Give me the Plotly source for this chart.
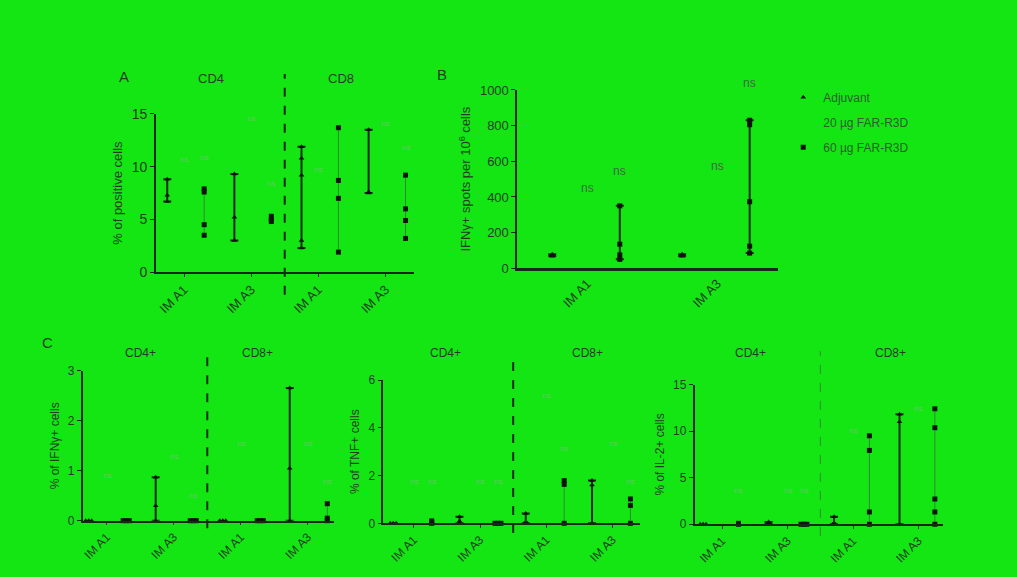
import plotly.graph_objects as go

# ---------------- data ----------------
# Panel A : % of positive cells (CD4 | CD8)
A_categories = ["IM A1", "IM A3", "IM A1", "IM A3"]
A_adjuvant = [[8.8, 7.3, 6.7], [9.3, 5.2, 3.0], [11.9, 10.8, 9.2, 3.0, 2.3], [13.5, 7.6, 7.5]]
A_far60 = [[7.9, 7.6, 4.5, 3.5], [5.3, 5.0, 4.8], [13.7, 8.7, 7.0, 1.9], [9.2, 6.0, 4.9, 3.2]]
A_ns_far20 = [10.1, 14.0, 9.1, 13.45]
A_ns_far60 = [10.3, 7.8, 15.4, 11.2]
A_yticks = [0, 5, 10, 15]

# Panel B : IFNg+ spots per 10^6 cells
B_categories = ["IM A1", "IM A3"]
B_adjuvant = [[78, 72, 68], [78, 72, 68]]
B_far60 = [[350, 135, 75, 50], [830, 805, 373, 124, 85]]
B_ns_far20 = [400, 523]
B_ns_far60 = [496, 987]
B_yticks = [0, 200, 400, 600, 800, 1000]

# Panel C1 : % of IFNg+ cells
C1_categories = ["IM A1", "IM A3", "IM A1", "IM A3"]
C1_adjuvant = [[0, 0, 0], [0.87, 0.3, 0], [0, 0, 0], [2.66, 1.05, 0]]
C1_far60 = [[0, 0, 0], [0, 0, 0], [0, 0, 0], [0.34, 0.05, 0]]
C1_ns_far20 = [0.77, 1.15, 1.41, 1.41]
C1_ns_far60 = [None, 0.38, None, 0.66]
C1_yticks = [0, 1, 2, 3]

# Panel C2 : % of TNF+ cells
C2_categories = ["IM A1", "IM A3", "IM A1", "IM A3"]
C2_adjuvant = [[0, 0, 0], [0.27, 0.1, 0], [0.41, 0, 0], [1.79, 1.6, 0]]
C2_far60 = [[0.1, 0.05, 0], [0, 0, 0], [1.79, 1.63, 0], [1.02, 0.75, 0]]
C2_ns_far20 = [1.49, 1.49, 5.09, 3.05]
C2_ns_far60 = [1.49, 1.49, 2.85, 1.49]
C2_yticks = [0, 2, 4, 6]

# Panel C3 : % of IL-2+ cells
C3_categories = ["IM A1", "IM A3", "IM A1", "IM A3"]
C3_adjuvant = [[0, 0, 0], [0.25, 0.15, 0.1], [0.8, 0, 0], [11.8, 11.0, 0]]
C3_far60 = [[0.1, 0.05, 0], [0, 0, 0], [9.5, 7.93, 1.32, 0], [12.4, 10.37, 2.71, 1.32, 0]]
C3_ns_far20 = [None, 2.89, 9.32, 11.76]
C3_ns_far60 = [2.89, 2.89, None, None]
C3_yticks = [0, 5, 10, 15]

# ---------------- style ----------------
BG = "#14E614"
INK = "#162816"
TXT = "#203e20"
FAINT = "#63c963"
FONT = "Arial, Liberation Sans, sans-serif"
W, H = 1017, 577


def px(x):
    return x / W


def py(y):
    return 1 - y / H


fig = go.Figure()

panels = [
    dict(s="", cats=A_categories, adj=A_adjuvant, f60=A_far60, ns20=A_ns_far20, ns60=A_ns_far60,
         yt=A_yticks, yr=[0, 15], xd=(155, 413), yd=(271.7, 109), xr=[-0.42, 3.42],
         title="% of positive cells", off=(-0.25, 0.0, 0.3), dark60=False, tf=14, nsbig=False),
    dict(s="2", cats=B_categories, adj=B_adjuvant, f60=B_far60, ns20=B_ns_far20, ns60=B_ns_far60,
         yt=B_yticks, yr=[0, 1000], xd=(516.7, 778), yd=(267.7, 84.3), xr=[-0.54, 1.47],
         title="IFNγ+ spots per 10<sup>6</sup> cells", off=(-0.27, 0.0, 0.25), dark60=True, tf=13, nsbig=True),
    dict(s="3", cats=C1_categories, adj=C1_adjuvant, f60=C1_far60, ns20=C1_ns_far20, ns60=C1_ns_far60,
         yt=C1_yticks, yr=[0, 3], xd=(81.7, 333.3), yd=(527.3, 373.3), xr=[-0.36, 3.39],
         title="% of IFNγ+ cells", off=(-0.27, 0.0, 0.29), dark60=False, tf=12, nsbig=False),
    dict(s="4", cats=C2_categories, adj=C2_adjuvant, f60=C2_far60, ns20=C2_ns_far20, ns60=C2_ns_far60,
         yt=C2_yticks, yr=[0, 6], xd=(382.7, 640), yd=(530, 382.7), xr=[-0.46, 3.42],
         title="% of TNF+ cells", off=(-0.31, 0.0, 0.27), dark60=False, tf=12, nsbig=False),
    dict(s="5", cats=C3_categories, adj=C3_adjuvant, f60=C3_far60, ns20=C3_ns_far20, ns60=C3_ns_far60,
         yt=C3_yticks, yr=[0, 15], xd=(694.3, 943.3), yd=(531, 387.3), xr=[-0.42, 3.38],
         title="% of IL-2+ cells", off=(-0.29, 0.0, 0.25), dark60=False, tf=12, nsbig=False),
]


def spread(vals, step):
    # small horizontal offsets for coincident points
    out = []
    seen = {}
    counts = {}
    for v in vals:
        counts[round(v, 2)] = counts.get(round(v, 2), 0) + 1
    for v in vals:
        k = round(v, 2)
        n = counts[k]
        i = seen.get(k, 0)
        seen[k] = i + 1
        out.append((i - (n - 1) / 2) * step if n > 1 else 0.0)
    return out


annotations = []
legend_done = {"adj": False, "f60": False}

for p in panels:
    xa, ya = "x" + p["s"], "y" + p["s"]
    o_adj, o_20, o_60 = p["off"]
    step = 0.045 if len(p["cats"]) > 2 else 0.03
    for ci in range(len(p["cats"])):
        for key, pts, off, sym, dark in (("adj", p["adj"][ci], o_adj, "triangle-up", True),
                                         ("f60", p["f60"][ci], o_60, "square", p["dark60"])):
            lo, hi = min(pts), max(pts)
            med = sorted(pts)[len(pts) // 2]
            if hi > lo:
                fig.add_trace(go.Scatter(
                    x=[ci + off], y=[med], xaxis=xa, yaxis=ya, mode="markers",
                    marker=dict(size=1, color="rgba(0,0,0,0)"), showlegend=False, hoverinfo="skip",
                    cliponaxis=False,
                    error_y=dict(type="data", symmetric=False, array=[hi - med], arrayminus=[med - lo],
                                 color=INK if dark else "#2f8a2f", thickness=2 if dark else 1,
                                 width=4 if dark else 2)))
            js = spread(pts, step)
            show = not legend_done[key]
            legend_done[key] = True
            fig.add_trace(go.Scatter(
                x=[ci + off + j for j in js], y=pts, xaxis=xa, yaxis=ya, mode="markers",
                marker=dict(symbol=sym, size=5, color="#0d140d"),
                name="Adjuvant" if key == "adj" else "60 µg FAR-R3D",
                legendgroup=key, showlegend=show, legendrank=1 if key == "adj" else 3,
                cliponaxis=False))
        for val, off in ((p["ns20"][ci], o_20), (p["ns60"][ci], o_60)):
            if val is None:
                continue
            annotations.append(dict(
                x=ci + off, y=val, xref=xa, yref=ya, text="ns", showarrow=False,
                xanchor="center", yanchor="bottom",
                font=dict(family=FONT, size=12 if p["nsbig"] else 8,
                          color="#3b6b3b" if p["nsbig"] else FAINT)))

# 20 ug legend entry (markers not visible in the original)
fig.add_trace(go.Scatter(x=[None], y=[None], mode="markers", name="20 µg FAR-R3D",
                         marker=dict(symbol="circle", size=5, color=BG), legendgroup="f20",
                         legendrank=2, showlegend=True))

layout = dict(
    width=W, height=H, paper_bgcolor=BG, plot_bgcolor=BG,
    margin=dict(l=0, r=0, t=0, b=0),
    font=dict(family=FONT, color=TXT, size=12),
    legend=dict(x=px(783), y=py(77), xanchor="left", yanchor="top", bgcolor="rgba(0,0,0,0)",
                font=dict(size=12, color="#2c5f2c"), tracegroupgap=6, itemwidth=30),
)

for p in panels:
    s = p["s"]
    xk, yk = "xaxis" + s, "yaxis" + s
    n = len(p["cats"])
    layout[xk] = dict(
        domain=[px(p["xd"][0]), px(p["xd"][1])], range=p["xr"], anchor="y" + s,
        tickmode="array", tickvals=list(range(n)), ticktext=p["cats"], tickangle=-45,
        showline=True, linecolor=INK, linewidth=2.5 if s == "2" else 1.5,
        ticks="outside" if s != "2" else "", ticklen=3, tickcolor=INK,
        showgrid=False, zeroline=False, tickfont=dict(size=13 if s in ("", "2") else 12, color=TXT),
    )
    layout[yk] = dict(
        domain=[py(p["yd"][0]), py(p["yd"][1])], range=p["yr"], anchor="x" + s,
        tickmode="array", tickvals=p["yt"], showline=True, linecolor=INK, linewidth=1.5,
        ticks="outside", ticklen=4, tickcolor=INK, showgrid=False, zeroline=False,
        tickfont=dict(size=p["tf"], color=TXT),
        title=dict(text=p["title"], font=dict(size=13 if s in ("", "2") else 12, color=TXT), standoff=6),
    )

fig.update_layout(**layout)

# panel letters and group headers
labels = [("A", 123, 70, 15), ("B", 441, 68, 15), ("C", 47, 344, 15),
          ("CD4", 210, 73, 13), ("CD8", 340, 73, 13),
          ("CD4+", 140, 355, 12), ("CD8+", 257, 355, 12),
          ("CD4+", 445, 355, 12), ("CD8+", 587, 355, 12),
          ("CD4+", 750, 355, 12), ("CD8+", 890, 355, 12)]
for t, x, y, fs in labels:
    annotations.append(dict(x=px(x), y=py(y), xref="paper", yref="paper", text=t, showarrow=False,
                            xanchor="center", yanchor="middle",
                            font=dict(family=FONT, size=fs, color=TXT)))

fig.update_layout(annotations=annotations)

# dashed separators between CD4 and CD8
seps = [("x", 68, 295, 2), ("x3", 356.7, 535, 2), ("x4", 363, 540, 2), ("x5", 353, 543, 1)]
for xr, y0, y1, wdt in seps:
    fig.add_shape(type="line", xref=xr, yref="paper", x0=1.5, x1=1.5, y0=py(y1), y1=py(y0),
                  line=dict(color=INK if wdt == 2 else "#2f8a2f", width=wdt, dash="dash"))

fig.write_html("out.html", config={"displayModeBar": False},
               post_script="document.body.style.margin='0';document.body.style.background='%s';" % BG)
